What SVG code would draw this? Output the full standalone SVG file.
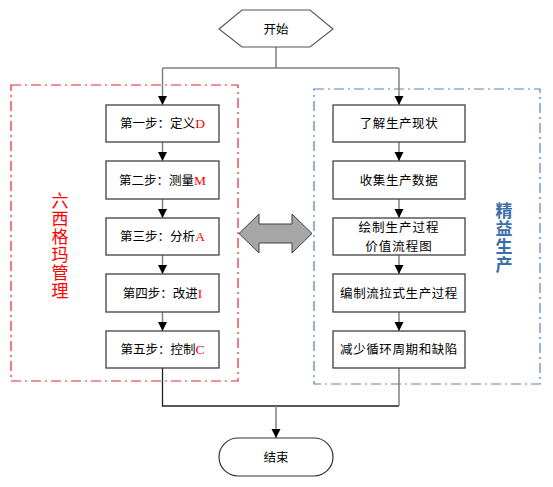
<svg xmlns="http://www.w3.org/2000/svg" width="553" height="487" viewBox="0 0 553 487">
<defs>
<style>
.box{fill:#fff;stroke:#404040;stroke-width:1.3}
.t{font-family:"Noto Sans CJK SC","Liberation Sans",sans-serif;font-size:12.5px;fill:#000;text-anchor:middle}
.r{fill:#ff0000;font-family:"Liberation Serif","Noto Sans CJK SC",serif;font-size:13.5px}
.c{fill:none;stroke:#808080;stroke-width:1.5}
.cb{fill:none;stroke:#202020;stroke-width:1.3}
.vl{font-family:"Noto Sans CJK SC",sans-serif;font-size:17px;letter-spacing:1px;writing-mode:tb;text-anchor:start}
</style>
<marker id="ah" markerUnits="userSpaceOnUse" markerWidth="10" markerHeight="10" viewBox="0 0 10 10" refX="9" refY="5" orient="auto">
<path d="M0,0.5 L9,5 L0,9.5 Z" fill="#000"/>
</marker>
</defs>
<rect width="553" height="487" fill="#fff"/>

<g id="sixsigma-frame">
<rect x="11" y="85" width="227" height="296" fill="none" stroke="#e3262b" stroke-width="1.2" stroke-dasharray="10 4 2 4"/>
<text class="vl" x="60" y="192" fill="#ff0000">六西格玛管理</text>
</g>
<g id="lean-frame">
<rect x="314" y="89" width="226" height="295" fill="none" stroke="#4f81bd" stroke-width="1.2" stroke-dasharray="10 4 2 4"/>
<text class="vl" x="504" y="202" font-weight="bold" fill="#3a6ea8">精益生产</text>
</g>

<g id="connectors">
<path class="c" d="M276,47 V68 M162.5,68 H399"/>
<path class="c" d="M162.5,68 V105" marker-end="url(#ah)"/>
<path class="c" d="M399,68 V105" marker-end="url(#ah)"/>
<path class="c" d="M162.5,142 V161" marker-end="url(#ah)"/>
<path class="c" d="M162.5,199 V218" marker-end="url(#ah)"/>
<path class="c" d="M162.5,255 V274" marker-end="url(#ah)"/>
<path class="c" d="M162.5,312 V331" marker-end="url(#ah)"/>
<path class="c" d="M399,142 V161" marker-end="url(#ah)"/>
<path class="c" d="M399,199 V218" marker-end="url(#ah)"/>
<path class="c" d="M399,255 V274" marker-end="url(#ah)"/>
<path class="c" d="M399,312 V331" marker-end="url(#ah)"/>
<path class="cb" d="M162.5,368 V406 H399"/>
<path class="c" d="M399,368 V406"/>
<path class="c" d="M276,406 V438" marker-end="url(#ah)"/>
</g>

<g id="start">
<polygon points="219,29 242,10 310,10 333,29 310,47 242,47" fill="#fff" stroke="#555" stroke-width="1.1"/>
<text class="t" x="276" y="33.5">开始</text>
</g>

<g id="s1"><rect class="box" x="106" y="105" width="113" height="37"/><text class="t" x="162.5" y="128.3">第一步：定义<tspan class="r">D</tspan></text></g>
<g id="s2"><rect class="box" x="106" y="161" width="113" height="38"/><text class="t" x="162.5" y="184.8">第二步：测量<tspan class="r">M</tspan></text></g>
<g id="s3"><rect class="box" x="106" y="218" width="113" height="37"/><text class="t" x="162.5" y="241.3">第三步：分析<tspan class="r">A</tspan></text></g>
<g id="s4"><rect class="box" x="106" y="274" width="113" height="38"/><text class="t" x="162.5" y="297.8">第四步：改进<tspan class="r">I</tspan></text></g>
<g id="s5"><rect class="box" x="106" y="331" width="113" height="37"/><text class="t" x="162.5" y="354.3">第五步：控制<tspan class="r">C</tspan></text></g>

<g id="l1"><rect class="box" x="333" y="105" width="132" height="37"/><text class="t" x="399" y="128.3" letter-spacing="0.6">了解生产现状</text></g>
<g id="l2"><rect class="box" x="333" y="161" width="132" height="38"/><text class="t" x="399" y="184.8" letter-spacing="0.6">收集生产数据</text></g>
<g id="l3"><rect class="box" x="333" y="218" width="132" height="37"/><text class="t" font-size="11.8" letter-spacing="1"><tspan x="399" y="232">绘制生产过程</tspan><tspan x="399" y="250.5">价值流程图</tspan></text></g>
<g id="l4"><rect class="box" x="333" y="274" width="132" height="38"/><text class="t" x="399" y="297.8" letter-spacing="0.6">编制流拉式生产过程</text></g>
<g id="l5"><rect class="box" x="333" y="331" width="132" height="37"/><text class="t" x="399" y="354.3" letter-spacing="0.6">减少循环周期和缺陷</text></g>

<g id="double-arrow">
<polygon points="239,233.5 259,214 259,224 292,224 292,214 312,233.5 292,253 292,243 259,243 259,253" fill="#a6a6a6" stroke="#404040" stroke-width="1"/>
</g>

<g id="end">
<rect x="219" y="438" width="114" height="38" rx="19" ry="19" fill="#fff" stroke="#333" stroke-width="1.2"/>
<text class="t" x="276" y="461.8">结束</text>
</g>
</svg>
